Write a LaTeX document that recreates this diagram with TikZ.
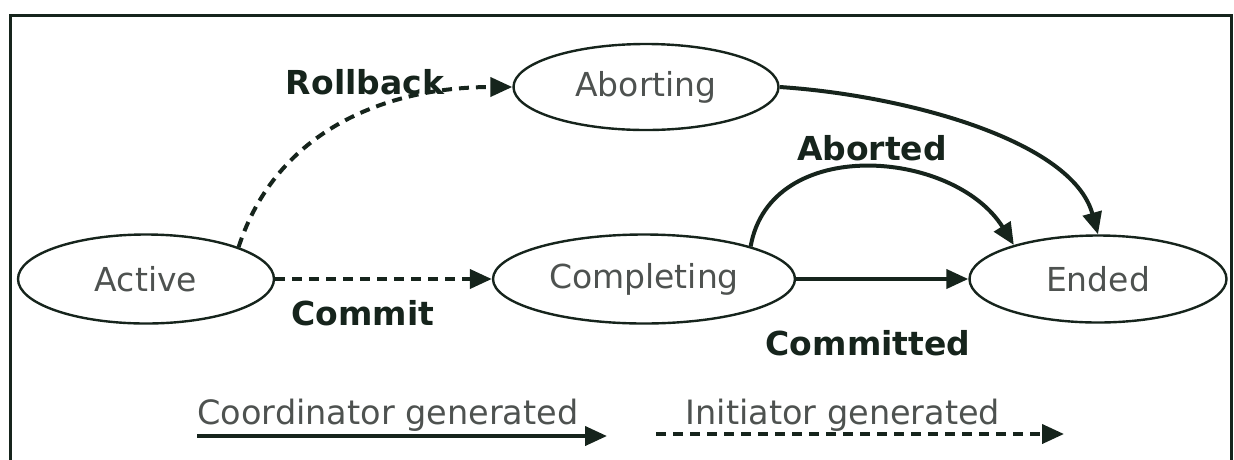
\documentclass[tikz,border=0pt]{standalone}
\usepackage{fontspec}
\setmainfont{DejaVu Sans}
\usetikzlibrary{shapes.geometric,arrows.meta}
\definecolor{ink}{RGB}{22,36,28}
\definecolor{statetext}{RGB}{78,82,80}
\begin{document}
\begin{tikzpicture}[x=1pt,y=1pt,
  state/.style={ellipse, draw=ink, line width=2.4pt, inner sep=0pt,
    text=statetext, font=\fontsize{33}{40}\selectfont},
  lbl/.style={text=ink, font=\fontsize{33}{40}\selectfont\bfseries},
  legendtext/.style={text=statetext, font=\fontsize{33.5}{40}\selectfont, anchor=base},
  coordarrow/.style={draw=ink, line width=4pt,
    -{Triangle[length=22pt,width=19pt]}},
  initarrow/.style={coordarrow, dash pattern=on 10pt off 7pt}]
\useasboundingbox (0,0) rectangle (1234,-459);
% outer frame, open at the bottom
\draw[ink, line width=3pt] (10,-470) -- (10,-15) -- (1231,-15) -- (1231,-470);

% states
\node[state, minimum width=256pt, minimum height=89pt] (active)     at (146,-279)  {Active};
\node[state, minimum width=265pt, minimum height=86pt] (aborting)   at (646,-87)   {Aborting};
\node[state, minimum width=302pt, minimum height=89pt] (completing) at (644,-279)  {Completing};
\node[state, minimum width=257pt, minimum height=87pt] (ended)      at (1098,-279) {Ended};

% transitions
\draw[initarrow] (active.19) to[out=72,in=180] (aborting.west);
\draw[initarrow] (active.east) -- (completing.west);
\draw[coordarrow] (aborting.east) .. controls +(122,-8) and +(-26,95) .. (ended.north);
\draw[coordarrow] (completing.17) to[out=80,in=122,looseness=1.1] (ended.158);
\draw[coordarrow] (completing.east) -- (ended.west);

% transition labels
\node[lbl] (rollback)  at (365,-82)  {Rollback};
\node[lbl] (aborted)   at (872,-148) {Aborted};
\node[lbl] (commit)    at (363,-313) {Commit};
\node[lbl] (committed) at (868,-343) {Committed};

% legend
\node[legendtext] (coordtext) at (388,-424) {Coordinator generated};
\node[legendtext] (inittext)  at (843,-424) {Initiator generated};
\coordinate (c0) at (197,-436);
\coordinate (c1) at (607,-436);
\coordinate (i0) at (656,-434);
\coordinate (i1) at (1064,-434);
\draw[coordarrow] (c0) -- (c1);
\draw[initarrow] (i0) -- (i1);
\end{tikzpicture}
\end{document}
